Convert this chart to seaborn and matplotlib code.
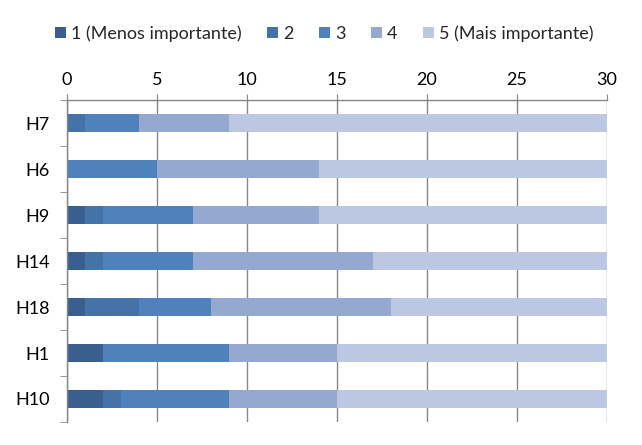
import numpy as np
import pandas as pd
import seaborn as sns
import matplotlib.pyplot as plt
from matplotlib.patches import Patch

categories = ["H7", "H6", "H9", "H14", "H18", "H1", "H10"]
levels = ["1 (Menos importante)", "2", "3", "4", "5 (Mais importante)"]
v1 = [0, 0, 1, 1, 1, 2, 2]
v2 = [1, 0, 1, 1, 3, 0, 1]
v3 = [3, 5, 5, 5, 4, 7, 6]
v4 = [5, 9, 7, 10, 10, 6, 6]
v5 = [21, 16, 16, 13, 12, 15, 15]
colors = ["#3a5f8f", "#4572a7", "#4f81bd", "#95a9d0", "#bcc8e1"]

sns.set_style("white")
plt.rcParams["font.family"] = ["Lato", "DejaVu Sans"]

df = pd.DataFrame({"cat": categories, "a": v1, "b": v2, "c": v3, "d": v4, "e": v5})
cum = df[["a", "b", "c", "d", "e"]].cumsum(axis=1)

fig = plt.figure(figsize=(6.42, 4.45), dpi=100)
ax = fig.add_axes([67 / 642, 23 / 445, 540 / 642, 322 / 445])

# draw cumulative totals from longest to shortest so they stack visually
for col, c in zip(["e", "d", "c", "b", "a"], colors[::-1]):
    sns.barplot(x=cum[col], y=df["cat"], order=categories, color=c,
                width=0.39, linewidth=0, saturation=1, ax=ax, orient="h")

ax.set_xlim(0, 30)
ax.set_ylim(6.5, -0.5)
ax.set_xticks(range(0, 31, 5))
ax.xaxis.tick_top()
ax.grid(axis="x", color="#868686", linewidth=1)
ax.set_axisbelow(True)
ax.set_xlabel("")
ax.set_ylabel("")

for s in ["right", "bottom"]:
    ax.spines[s].set_visible(False)
for s in ["left", "top"]:
    ax.spines[s].set_color("#868686")
    ax.spines[s].set_linewidth(1)

ax.tick_params(axis="x", top=True, direction="out", length=4, color="#868686",
               labelsize=13, pad=5, labelcolor="#000000")
ax.tick_params(axis="y", left=False, labelsize=13, pad=9, labelcolor="#000000")
ax.set_yticks(np.arange(-0.5, 7, 1), minor=True)
ax.tick_params(axis="y", which="minor", left=True, length=5, color="#868686")

handles = [Patch(facecolor=c, edgecolor="none") for c in colors]
fig.legend(handles, levels, loc="center", bbox_to_anchor=(0.505, 0.925), ncol=5,
           frameon=False, fontsize=13, handlelength=0.6, handleheight=0.6,
           handletextpad=0.3, columnspacing=1.4)

fig.savefig("out.png", dpi=100)
